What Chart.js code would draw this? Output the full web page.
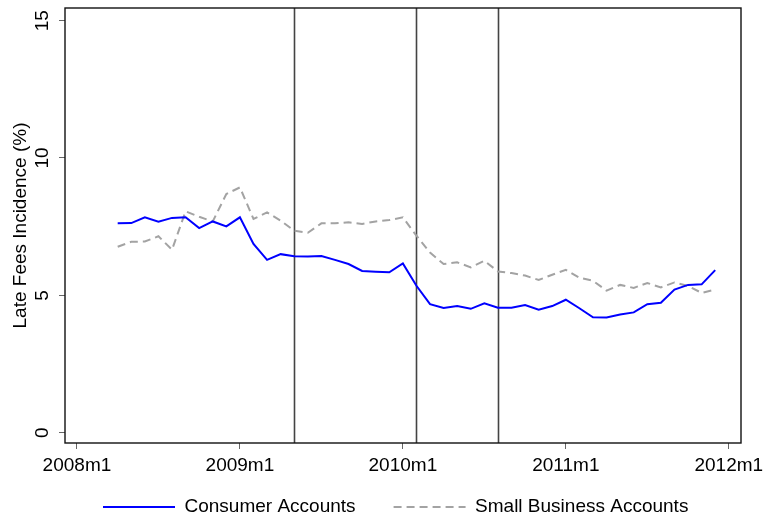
<!DOCTYPE html>
<html>
<head>
<meta charset="utf-8">
<script src="https://cdn.jsdelivr.net/npm/chart.js@4"></script>
<style>
html, body { margin: 0; padding: 0; background: #fff; }
#wrap { width: 763px; height: 521px; }
</style>
</head>
<body>
<div id="wrap"><canvas id="canvasChart" width="763" height="521"></canvas></div>
<script>
// months counted from 2008m1 = 0, series start at 2008m4
var firstMonth = 3;
var consumer = [7.62, 7.63, 7.84, 7.68, 7.82, 7.84, 7.45, 7.69, 7.51,
    7.84, 6.87, 6.29, 6.50, 6.42, 6.41, 6.43, 6.29, 6.14, 5.89, 5.86, 5.84,
    6.16, 5.35, 4.68, 4.54, 4.61, 4.51, 4.71, 4.55, 4.55, 4.65, 4.48, 4.61,
    4.84, 4.53, 4.20, 4.19, 4.30, 4.38, 4.68, 4.73, 5.21, 5.38, 5.40, 5.92];
var smallBusiness = [6.77, 6.95, 6.96, 7.15, 6.66, 8.06, 7.86, 7.69, 8.69,
    8.93, 7.78, 8.02, 7.72, 7.35, 7.28, 7.62, 7.62, 7.66, 7.60, 7.69, 7.74,
    7.84, 7.17, 6.56, 6.14, 6.20, 6.02, 6.26, 5.87, 5.81, 5.72, 5.56, 5.75,
    5.93, 5.64, 5.53, 5.17, 5.38, 5.27, 5.45, 5.29, 5.47, 5.34, 5.09, 5.21];
var xTickValues = [0, 12, 24, 36, 48];
var xTickLabels = ['2008m1', '2009m1', '2010m1', '2011m1', '2012m1'];
var yTickValues = [0, 5, 10, 15];
var yTickLabels = ['0', '5', '10', '15'];
var eventMonths = [16, 25, 31]; // 2009m5, 2010m2, 2010m8

var fontName = '"Liberation Sans", Arial, Helvetica, sans-serif';

function toPoints(values) {
    return values.map(function (v, i) { return { x: firstMonth + i, y: v }; });
}

var framePlugin = {
    id: 'frame',
    beforeDatasetsDraw: function (chart) {
        var ctx = chart.ctx, area = chart.chartArea, xs = chart.scales.x;
        ctx.save();
        ctx.strokeStyle = '#444';
        ctx.lineWidth = 1.6;
        eventMonths.forEach(function (m) {
            var px = Math.round(xs.getPixelForValue(m)) + 0.5;
            ctx.beginPath();
            ctx.moveTo(px, area.top);
            ctx.lineTo(px, area.bottom);
            ctx.stroke();
        });
        ctx.restore();
    },
    afterDraw: function (chart) {
        var ctx = chart.ctx, area = chart.chartArea, xs = chart.scales.x, ys = chart.scales.y;
        ctx.save();
        ctx.strokeStyle = '#111';
        ctx.lineWidth = 1.4;
        ctx.strokeRect(area.left, area.top, area.right - area.left, area.bottom - area.top);
        ctx.fillStyle = '#000';
        ctx.font = '19px ' + fontName;
        ctx.textAlign = 'center';
        ctx.textBaseline = 'alphabetic';
        // x tick labels under the frame
        xTickValues.forEach(function (v, i) {
            ctx.fillText(xTickLabels[i], xs.getPixelForValue(v), area.bottom + 27.5);
        });
        // y tick labels are turned like the axis title
        yTickValues.forEach(function (v, i) {
            ctx.save();
            ctx.translate(48, ys.getPixelForValue(v));
            ctx.rotate(-Math.PI / 2);
            ctx.fillText(yTickLabels[i], 0, 0);
            ctx.restore();
        });
        ctx.restore();
    }
};

var chartObject = new Chart(document.getElementById('canvasChart').getContext('2d'), {
    type: 'line',
    data: {
        datasets: [{
            label: 'Consumer Accounts',
            data: toPoints(consumer),
            borderColor: '#0000ff',
            backgroundColor: '#0000ff',
            borderWidth: 2,
            pointRadius: 0,
            pointStyle: 'line',
            tension: 0
        }, {
            label: 'Small Business Accounts',
            data: toPoints(smallBusiness),
            borderColor: '#a3a3a3',
            backgroundColor: '#a3a3a3',
            borderWidth: 2,
            borderDash: [8, 5],
            pointRadius: 0,
            pointStyle: 'line',
            tension: 0
        }]
    },
    options: {
        responsive: false,
        animation: false,
        devicePixelRatio: 1,
        layout: { padding: { top: 8, right: 22, left: 0, bottom: -5.5 } },
        scales: {
            x: {
                type: 'linear',
                min: -0.88,
                max: 48.9,
                afterBuildTicks: function (s) {
                    s.ticks = xTickValues.map(function (v) { return { value: v }; });
                },
                afterFit: function (s) { s.height = 16.5; },
                ticks: { display: false },
                grid: { drawOnChartArea: false, drawTicks: true, tickLength: 6, color: '#666' },
                border: { display: false }
            },
            y: {
                min: -0.375,
                max: 15.46,
                afterBuildTicks: function (s) {
                    s.ticks = yTickValues.map(function (v) { return { value: v }; });
                },
                afterFit: function (s) { s.width = 65; },
                ticks: { display: false },
                grid: { drawOnChartArea: false, drawTicks: true, tickLength: 6, color: '#666' },
                border: { display: false },
                title: {
                    display: true,
                    text: 'Late Fees Incidence (%)',
                    color: '#000',
                    font: { family: fontName, size: 19 },
                    padding: { top: 9, bottom: 0 }
                }
            }
        },
        plugins: {
            legend: {
                position: 'bottom',
                align: 'start',
                fullSize: false,
                labels: {
                    usePointStyle: true,
                    pointStyleWidth: 72,
                    padding: 38,
                    color: '#000',
                    font: { family: fontName, size: 19 },
                    generateLabels: function (chart) {
                        var items = Chart.defaults.plugins.legend.labels.generateLabels(chart);
                        items.forEach(function (it) {
                            var ds = chart.data.datasets[it.datasetIndex];
                            it.lineDash = ds.borderDash || [];
                            it.lineWidth = 2;
                            it.strokeStyle = ds.borderColor;
                        });
                        return items;
                    }
                }
            },
            tooltip: { enabled: false }
        }
    },
    plugins: [framePlugin]
});
</script>
</body>
</html>
